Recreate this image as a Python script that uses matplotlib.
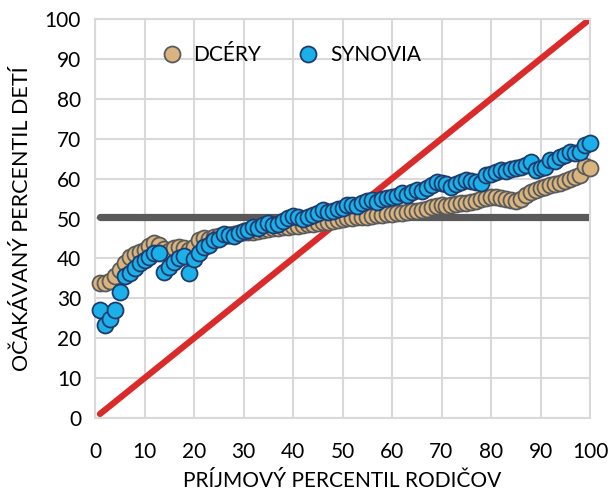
import matplotlib
matplotlib.use("Agg")
import matplotlib.pyplot as plt
import numpy as np

plt.rcParams['font.family'] = ['Lato', 'DejaVu Sans']

percentiles = list(range(1, 101))

daughters = [33.9, 33.8, 34.3, 35.5, 37.0, 38.8, 40.4, 41.2, 41.7, 42.1,
             43.0, 43.8, 43.4, 42.3, 41.9, 42.6, 42.9, 42.5, 42.1, 42.8,
             44.6, 45.0, 44.8, 45.3, 45.6, 45.7, 45.9, 46.1, 46.3, 46.6,
             46.5, 46.7, 46.9, 47.1, 47.3, 47.5, 47.6, 47.8, 47.9, 48.0,
             48.2, 48.3, 48.5, 48.7, 48.9, 49.0, 49.2, 49.4, 49.6, 49.8,
             50.0, 50.2, 50.4, 50.5, 50.4, 50.6, 50.8, 50.9, 51.1, 51.2,
             51.3, 51.4, 51.6, 51.8, 51.9, 52.2, 52.5, 52.8, 53.2, 53.3,
             53.2, 53.5, 53.7, 53.8, 54.0, 54.2, 54.5, 54.8, 55.2, 55.5,
             55.3, 55.1, 55.0, 54.7, 54.3, 55.0, 55.8, 56.6, 57.2, 57.6,
             58.0, 58.3, 58.6, 59.0, 59.5, 59.9, 60.5, 61.0, 63.2, 62.6]

sons = [27.1, 23.2, 24.8, 27.0, 31.7, 35.5, 36.4, 37.5, 38.8, 39.6,
        40.4, 41.3, 41.4, 36.6, 37.9, 39.2, 40.0, 40.5, 36.3, 39.8,
        41.3, 42.8, 43.3, 44.5, 44.9, 46.2, 45.9, 45.7, 46.4, 46.8,
        47.2, 47.9, 47.6, 48.4, 48.8, 48.3, 48.6, 49.3, 50.2, 50.7,
        50.3, 49.9, 50.4, 51.0, 51.4, 52.1, 51.6, 51.9, 52.3, 52.6,
        53.4, 53.5, 53.2, 53.8, 54.4, 54.6, 54.2, 54.9, 55.1, 55.5,
        55.7, 56.3, 55.9, 56.6, 57.1, 56.8, 57.6, 58.3, 59.2, 58.9,
        58.6, 58.0, 58.6, 59.2, 59.6, 59.3, 59.1, 58.8, 60.8, 61.2,
        61.6, 62.2, 61.8, 62.5, 62.6, 62.9, 63.5, 64.2, 62.2, 62.6,
        63.0, 64.7, 64.3, 65.5, 65.8, 66.7, 66.4, 66.7, 68.5, 69.0]

mean_x = [1, 100]
mean_y = [50.3, 50.3]
diag_x = [1, 100]
diag_y = [1, 100]

labels = ["DCÉRY", "SYNOVIA"]
xlabel = "PRÍJMOVÝ PERCENTIL RODIČOV"
ylabel = "OČAKÁVANÝ PERCENTIL DETÍ"

fig = plt.figure(figsize=(6.16, 4.90), dpi=100)
ax = fig.add_axes([95/616, 1 - 418/490, 495/616, 399/490])

ax.plot(mean_x, mean_y, color='#595959', lw=5.2, solid_capstyle='round', zorder=2)
ax.plot(diag_x, diag_y, color='#DA2A2A', lw=4.5, solid_capstyle='round', zorder=2)

ax.plot(percentiles, daughters, linestyle='none', marker='o', ms=11.5,
        mfc='#D9B47E', mec='#5A5A5A', mew=1.3, label=labels[0], zorder=3, clip_on=False)
ax.plot(percentiles, sons, linestyle='none', marker='o', ms=11.5,
        mfc='#1BB1E8', mec='#1F3B6E', mew=1.3, label=labels[1], zorder=4, clip_on=False)

ax.set_xlim(0, 100)
ax.set_ylim(0, 100)
ax.set_xticks(np.arange(0, 101, 10))
ax.set_yticks(np.arange(0, 101, 10))
ax.grid(True, color='#D9D9D9', lw=1.5, zorder=0)
ax.set_axisbelow(True)
for s in ax.spines.values():
    s.set_color('#D9D9D9')
    s.set_linewidth(1.5)
ax.tick_params(axis='y', length=0, labelsize=15, colors='#000000', pad=10)
ax.tick_params(axis='x', length=0, labelsize=15, colors='#000000', pad=17.5)

ax.set_xlabel(xlabel, fontsize=15, labelpad=6)
ax.set_ylabel(ylabel, fontsize=15.5, labelpad=9)

ax.legend(loc='center left', bbox_to_anchor=(0.075, 0.91), ncol=2, frameon=False,
          fontsize=15, handletextpad=0.05, columnspacing=1.25, markerscale=1.0)

fig.savefig("out.png", dpi=100)
